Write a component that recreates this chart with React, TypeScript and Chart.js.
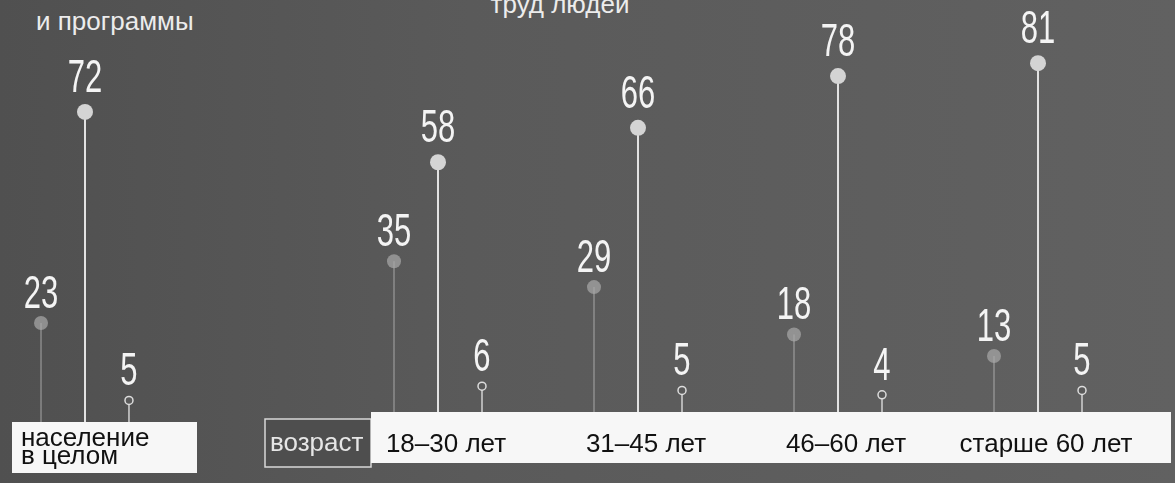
import React, { useEffect, useRef } from "react";
import { Chart, registerables } from "chart.js";

Chart.register(...registerables);

// ---- data ----
const overallCategories = [["население", "в целом"]];
const ageCategories = ["18–30 лет", "31–45 лет", "46–60 лет", "старше 60 лет"];
const ageAxisTitle = "возраст";
const headerLeft = "и программы";
const headerMiddle = "труд людей";

const overallFirst = [23];
const overallSecond = [72];
const overallThird = [5];

const ageFirst = [35, 29, 18, 13];
const ageSecond = [58, 66, 78, 81];
const ageThird = [6, 5, 4, 5];

const Y_MAX = 98;

// ---- styles ----
const stemStyles = [
  { color: "rgba(185,185,185,0.55)", width: 1.5 },
  { color: "#e2e2e2", width: 2 },
  { color: "#d2d2d2", width: 1.5 },
];
const dotStyles = [
  { r: 7, fill: "rgba(170,170,170,0.7)", stroke: null as string | null, gap: 15 },
  { r: 8, fill: "#d4d4d4", stroke: null as string | null, gap: 20 },
  { r: 4, fill: "#595959", stroke: "#dcdcdc", gap: 15 },
];

const lollipopPlugin = {
  id: "lollipop",
  afterDatasetsDraw(chart: any) {
    const ctx = chart.ctx as CanvasRenderingContext2D;
    chart.data.datasets.forEach((ds: any, di: number) => {
      const meta = chart.getDatasetMeta(di);
      const st = dotStyles[di];
      meta.data.forEach((el: any, i: number) => {
        const { x, y } = el.getProps(["x", "y"], true);
        ctx.save();
        ctx.beginPath();
        ctx.arc(x, y, st.r, 0, Math.PI * 2);
        ctx.fillStyle = st.fill;
        ctx.fill();
        if (st.stroke) {
          ctx.lineWidth = 1.5;
          ctx.strokeStyle = st.stroke;
          ctx.stroke();
        }
        ctx.restore();

        ctx.save();
        ctx.translate(x, y - st.gap);
        ctx.scale(0.66, 1);
        ctx.font = '47px "Liberation Sans", Arial, sans-serif';
        ctx.fillStyle = "#f4f4f4";
        ctx.textAlign = "center";
        ctx.textBaseline = "alphabetic";
        ctx.fillText(String(ds.data[i]), 0, 0);
        ctx.restore();
      });
    });
  },
};

const overallBoxPlugin = {
  id: "overallBox",
  beforeDraw(chart: any) {
    const { ctx, chartArea } = chart;
    ctx.save();
    ctx.fillStyle = "#f7f7f7";
    ctx.fillRect(chartArea.left + 12, chartArea.bottom, chartArea.right - chartArea.left + 15, 51);
    ctx.restore();
  },
};

const ageBoxPlugin = {
  id: "ageBox",
  beforeDraw(chart: any) {
    const { ctx, chartArea } = chart;
    const L = chartArea.left;
    const B = chartArea.bottom;
    ctx.save();
    // dark "возраст" box
    ctx.fillStyle = "#4e4e4e";
    ctx.fillRect(L - 73, B + 7, 106, 48);
    ctx.strokeStyle = "#d8d8d8";
    ctx.lineWidth = 1.5;
    ctx.strokeRect(L - 73, B + 7, 106, 48);
    // white label strip
    ctx.fillStyle = "#f7f7f7";
    ctx.fillRect(L + 33, B, chartArea.right - L, 51);
    // title text
    ctx.font = '26px "Liberation Sans", Arial, sans-serif';
    ctx.fillStyle = "#e6e6e6";
    ctx.textAlign = "left";
    ctx.textBaseline = "alphabetic";
    ctx.fillText(ageAxisTitle, L - 68, B + 39);
    ctx.restore();
  },
};

function makeOptions(opts: {
  padLeft: number;
  padRight: number;
  axisHeight: number;
  catPct: number;
  tickAlign: "start" | "center";
  labelOffset: number;
  tickPadding: number;
  lineHeight: number;
}) {
  return {
    responsive: false,
    animation: false as const,
    layout: { padding: { left: opts.padLeft, right: opts.padRight, top: 0, bottom: 0 } },
    plugins: { legend: { display: false }, tooltip: { enabled: false }, title: { display: false } },
    datasets: { bar: { categoryPercentage: opts.catPct, barPercentage: 1 } },
    scales: {
      x: {
        type: "category" as const,
        grid: { display: false, drawTicks: false },
        border: { display: false },
        ticks: {
          color: "#111",
          font: { family: '"Liberation Sans", Arial, sans-serif', size: 26, lineHeight: opts.lineHeight },
          align: opts.tickAlign,
          labelOffset: opts.labelOffset,
          padding: opts.tickPadding,
          maxRotation: 0,
          autoSkip: false,
        },
        afterFit: (scale: any) => {
          scale.height = opts.axisHeight;
          scale.paddingLeft = 0;
          scale.paddingRight = 0;
        },
      },
      y: { display: false, min: 0, max: Y_MAX },
    },
  };
}

function makeDatasets(first: number[], second: number[], third: number[]) {
  return [first, second, third].map((data, i) => ({
    label: `ряд ${i + 1}`,
    data,
    backgroundColor: stemStyles[i].color,
    borderWidth: 0,
    maxBarThickness: stemStyles[i].width,
  }));
}

export default function App() {
  const refA = useRef<HTMLCanvasElement>(null);
  const refB = useRef<HTMLCanvasElement>(null);

  useEffect(() => {
    const a = new Chart(refA.current as HTMLCanvasElement, {
      type: "bar",
      data: {
        labels: overallCategories as any,
        datasets: makeDatasets(overallFirst, overallSecond, overallThird),
      },
      options: makeOptions({
        padLeft: 0,
        padRight: 30,
        axisHeight: 61,
        catPct: 0.776,
        tickAlign: "start",
        labelOffset: -64,
        tickPadding: 8,
        lineHeight: 0.7,
      }) as any,
      plugins: [overallBoxPlugin, lollipopPlugin],
    });
    const b = new Chart(refB.current as HTMLCanvasElement, {
      type: "bar",
      data: {
        labels: ageCategories,
        datasets: makeDatasets(ageFirst, ageSecond, ageThird),
      },
      options: makeOptions({
        padLeft: 78,
        padRight: 37,
        axisHeight: 71,
        catPct: 0.66,
        tickAlign: "center",
        labelOffset: 8,
        tickPadding: 17,
        lineHeight: 1.2,
      }) as any,
      plugins: [ageBoxPlugin, lollipopPlugin],
    });
    return () => {
      a.destroy();
      b.destroy();
    };
  }, []);

  const headerFont: React.CSSProperties = {
    position: "absolute",
    fontFamily: '"Liberation Sans", Arial, sans-serif',
    fontSize: 26,
    lineHeight: "26px",
    color: "#ececec",
    whiteSpace: "nowrap",
  };

  return (
    <div
      style={{
        position: "fixed",
        left: 0,
        top: 0,
        width: 1175,
        height: 483,
        overflow: "hidden",
        background: "linear-gradient(90deg, #505050 0%, #5a5a5a 40%, #616161 100%)",
      }}
    >
      <div style={{ ...headerFont, left: 36, top: 8 }}>{headerLeft}</div>
      <div style={{ ...headerFont, left: 460, top: -9, width: 200, textAlign: "center" }}>{headerMiddle}</div>
      <canvas ref={refA} width={200} height={483} style={{ position: "absolute", left: 0, top: 0 }} />
      <canvas ref={refB} width={915} height={493} style={{ position: "absolute", left: 260, top: -10 }} />
    </div>
  );
}
